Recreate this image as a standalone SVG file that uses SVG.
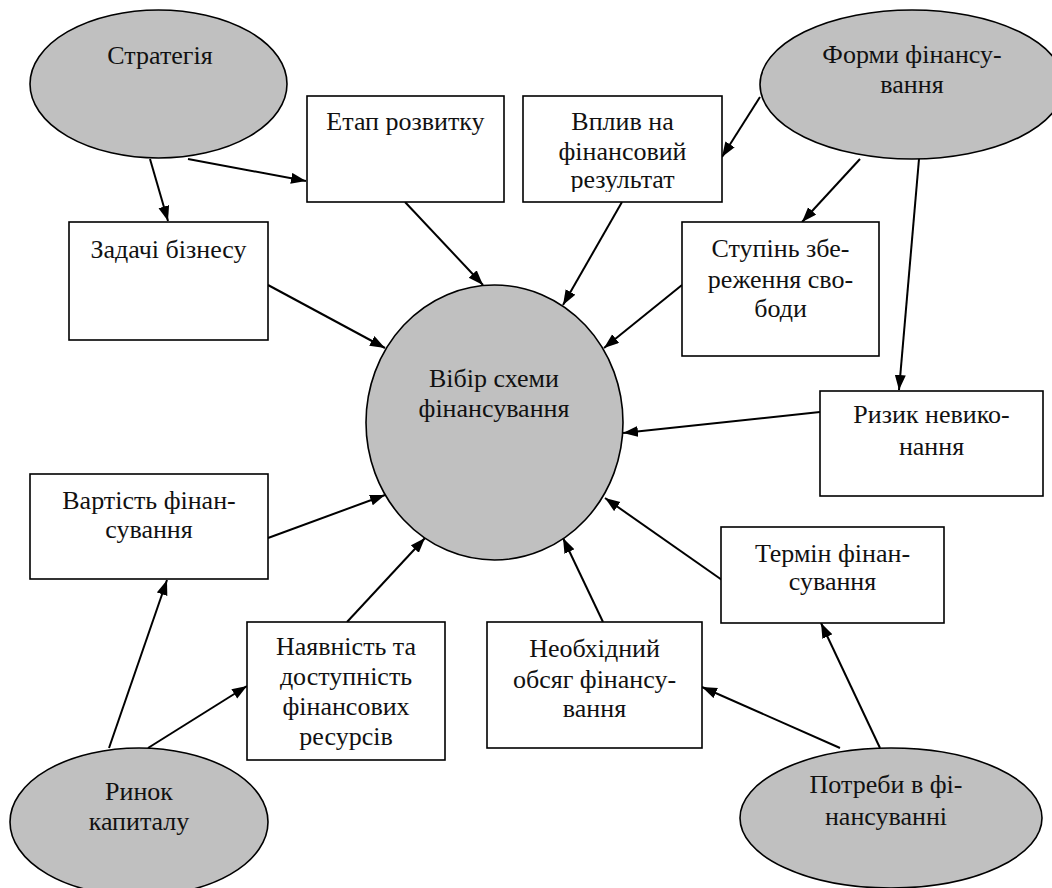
<svg xmlns="http://www.w3.org/2000/svg" width="1052" height="888" viewBox="0 0 1052 888">
<style>
.bg{fill:#ffffff}
.oval{fill:#c0c0c0;stroke:#000;stroke-width:1.6}
.box{fill:#ffffff;stroke:#000;stroke-width:1.6}
text{font-family:"Liberation Serif","Times New Roman",serif;font-size:26px;fill:#111;text-anchor:middle}
.c{stroke:#000;stroke-width:2;fill:none;marker-end:url(#ah)}
</style>
<defs>
<marker id="ah" markerUnits="userSpaceOnUse" markerWidth="16" markerHeight="12" refX="15" refY="5.5" orient="auto">
<path d="M0,0 L15,5.5 L0,11 z" fill="#000"/>
</marker>
<clipPath id="clipVplyv"><rect x="523" y="96" width="199" height="96"/></clipPath>
</defs>
<rect class="bg" x="0" y="0" width="1052" height="888"/>

<g id="connectors">
<line class="c" x1="150" y1="159" x2="168" y2="221"/>
<line class="c" x1="188" y1="159" x2="306" y2="181"/>
<line class="c" x1="268" y1="285" x2="385" y2="348"/>
<line class="c" x1="405" y1="202" x2="483" y2="285"/>
<line class="c" x1="622" y1="202" x2="563" y2="305"/>
<line class="c" x1="760" y1="97" x2="722" y2="157"/>
<line class="c" x1="860" y1="159" x2="802" y2="222"/>
<line class="c" x1="919" y1="159" x2="899" y2="390"/>
<line class="c" x1="682" y1="285" x2="604" y2="348"/>
<line class="c" x1="820" y1="412" x2="623" y2="433"/>
<line class="c" x1="268" y1="538" x2="385" y2="495"/>
<line class="c" x1="347" y1="622" x2="425" y2="538"/>
<line class="c" x1="109" y1="748" x2="167" y2="580"/>
<line class="c" x1="148" y1="748" x2="247" y2="686"/>
<line class="c" x1="603" y1="622" x2="563" y2="538"/>
<line class="c" x1="722" y1="580" x2="605" y2="498"/>
<line class="c" x1="840" y1="748" x2="702" y2="687"/>
<line class="c" x1="880" y1="748" x2="821" y2="623"/>
</g>

<g id="strategy">
<ellipse class="oval" cx="158.5" cy="84" rx="128.5" ry="74"/>
<text x="160" y="64">Стратегія</text>
</g>

<g id="forms">
<ellipse class="oval" cx="912" cy="84.5" rx="152" ry="74.5"/>
<text x="912" y="63">Форми фінансу-</text>
<text x="912" y="93">вання</text>
</g>

<g id="tasks">
<rect class="box" x="69" y="222" width="199" height="118"/>
<text x="168.5" y="258">Задачі бізнесу</text>
</g>

<g id="stage">
<rect class="box" x="307" y="96" width="197" height="106"/>
<text x="405.5" y="130">Етап розвитку</text>
</g>

<g id="impact">
<rect class="box" x="523" y="96" width="199" height="106"/>
<g clip-path="url(#clipVplyv)">
<text x="622.5" y="130">Вплив на</text>
<text x="622.5" y="160">фінансовий</text>
<text x="622.5" y="188">результат</text>
</g>
</g>

<g id="freedom">
<rect class="box" x="682" y="222" width="197" height="134"/>
<text x="780.5" y="257">Ступінь збе-</text>
<text x="780.5" y="288">реження сво-</text>
<text x="780.5" y="317">боди</text>
</g>

<g id="risk">
<rect class="box" x="820" y="391" width="223" height="105"/>
<text x="931.5" y="423">Ризик невико-</text>
<text x="931.5" y="455">нання</text>
</g>

<g id="center">
<ellipse class="oval" cx="494.5" cy="422.5" rx="128.5" ry="137.5"/>
<text x="494" y="387">Вібір схеми</text>
<text x="494" y="417">фінансування</text>
</g>

<g id="cost">
<rect class="box" x="30" y="474" width="238" height="105"/>
<text x="149" y="509">Вартість фінан-</text>
<text x="149" y="538">сування</text>
</g>

<g id="availability">
<rect class="box" x="247" y="622" width="198" height="138"/>
<text x="346" y="655">Наявність та</text>
<text x="346" y="685">доступність</text>
<text x="346" y="715">фінансових</text>
<text x="346" y="745">ресурсів</text>
</g>

<g id="term">
<rect class="box" x="721" y="527" width="223" height="96"/>
<text x="832.5" y="562">Термін фінан-</text>
<text x="832.5" y="590">сування</text>
</g>

<g id="volume">
<rect class="box" x="487" y="622" width="215" height="126"/>
<text x="594.5" y="657">Необхідний</text>
<text x="594.5" y="688">обсяг фінансу-</text>
<text x="594.5" y="717">вання</text>
</g>

<g id="market">
<ellipse class="oval" cx="139" cy="822" rx="129" ry="74"/>
<text x="139" y="800">Ринок</text>
<text x="139" y="830">капиталу</text>
</g>

<g id="needs">
<ellipse class="oval" cx="891" cy="818" rx="151" ry="70"/>
<text x="886" y="793">Потреби в фі-</text>
<text x="886" y="825">нансуванні</text>
</g>
</svg>
